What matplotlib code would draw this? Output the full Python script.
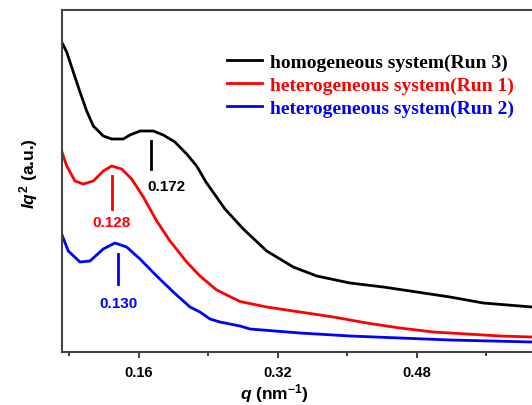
import matplotlib
matplotlib.use("Agg")
import matplotlib.pyplot as plt
from matplotlib.ticker import MultipleLocator

plt.rcParams["mathtext.fontset"] = "custom"
plt.rcParams["mathtext.rm"] = "Liberation Sans:bold"
plt.rcParams["mathtext.it"] = "Liberation Sans:bold:italic"
plt.rcParams["mathtext.bf"] = "Liberation Sans:bold"

# values (q in nm^-1, Iq^2 in arbitrary units)
q_run3 = [0.0710, 0.0768, 0.0844, 0.0921, 0.0998, 0.1074, 0.1189, 0.1286, 0.1419,
          0.1496, 0.1612, 0.1765, 0.1880, 0.2014, 0.2149, 0.2264, 0.2371, 0.2590,
          0.2801, 0.3070, 0.3376, 0.3646, 0.4029, 0.4412, 0.4797, 0.5180, 0.5563,
          0.6124]
i_run3 = [310, 300, 280, 260, 241, 226, 216, 213, 213,
          217, 221, 221, 217, 210, 198, 186, 170, 143,
          123, 101, 85, 76, 69, 65, 60, 55, 49,
          45]

q_run1 = [0.0710, 0.0768, 0.0863, 0.0959, 0.1074, 0.1189, 0.1286, 0.1401, 0.1516,
          0.1650, 0.1804, 0.1957, 0.2149, 0.2302, 0.2494, 0.2763, 0.3070, 0.3453,
          0.3837, 0.4221, 0.4604, 0.4988, 0.5372, 0.5756, 0.6124]
i_run1 = [201, 186, 171, 168, 171, 181, 186, 183, 173,
          155, 131, 111, 90, 76, 62, 50.5, 45, 40,
          35, 29, 24, 20, 18, 16, 15]

q_run2 = [0.0710, 0.0786, 0.0921, 0.1036, 0.1189, 0.1324, 0.1458, 0.1612, 0.1804,
          0.1995, 0.2187, 0.2302, 0.2417, 0.2532, 0.2763, 0.2878, 0.3453, 0.4029,
          0.4604, 0.5180, 0.6124]
i_run2 = [118, 101, 90, 91, 103, 109, 105, 93, 76,
          60, 45, 40, 33, 30, 26, 23, 19, 16,
          14, 12, 10]

labels = ["homogeneous system(Run 3)", "heterogeneous system(Run 1)",
          "heterogeneous system(Run 2)"]
colors = ["black", "#ff0000", "#0000ff"]

# peak markers: position, tick y range, label text and label position
peak_q = [0.1738, 0.1293, 0.1362]
peak_y = [(211, 183), (176, 143), (98, 68)]
peak_txt = ["0.172", "0.128", "0.130"]
peak_lbl = [(0.1911, 166), (0.1286, 130), (0.1362, 49)]

fig = plt.figure(figsize=(5.32, 4.06), dpi=100)
ax = fig.add_axes([62 / 532, 1 - 353 / 406, 1 - 62 / 532, (353 - 11) / 406])

for q, i, lab, c in zip([q_run3, q_run1, q_run2], [i_run3, i_run1, i_run2], labels, colors):
    ax.plot(q, i, color=c, lw=2, label=lab, solid_joinstyle="round")

for pq, (y0, y1), t, (lx, ly), c in zip(peak_q, peak_y, peak_txt, peak_lbl, colors):
    ax.plot([pq, pq], [y0, y1], color=c, lw=2)
    ax.text(lx, ly, t, color=c, fontsize=11, fontweight="bold",
            family="Liberation Sans", ha="center", va="center")

ax.set_xlim(0.0714, 0.6124)
ax.set_ylim(0, 342)
ax.xaxis.set_major_locator(MultipleLocator(0.16))
ax.xaxis.set_minor_locator(MultipleLocator(0.08))
ax.xaxis.set_major_formatter(plt.FuncFormatter(lambda v, p: f"{v:.2f}"))
ax.set_yticks([])
ax.tick_params(axis="x", which="major", direction="out", length=4.3, width=1.3,
               labelsize=10.5, pad=5, colors="#333333")
ax.tick_params(axis="x", which="minor", direction="out", length=3, width=1.3, colors="#333333")
for lbl in ax.get_xticklabels():
    lbl.set_fontweight("bold")
    lbl.set_family("Liberation Sans")
    lbl.set_color("black")
for s in ["left", "bottom", "top"]:
    ax.spines[s].set_linewidth(1.5)
    ax.spines[s].set_color("#444444")
ax.spines["right"].set_visible(False)

ax.set_xlabel(r"$\mathit{q}$ (nm$^{\mathrm{-1}}$)", fontsize=12.5,
              fontweight="bold", family="Liberation Sans", va="center")
ax.xaxis.set_label_coords((274 - 62) / 470, -(394 - 353) / 342)
ax.set_ylabel(r"$\mathit{Iq}^{\mathrm{2}}$ (a.u.)", fontsize=12.5,
              fontweight="bold", family="Liberation Sans")
ax.yaxis.set_label_coords(-(62 - 40) / 470, (353 - 174) / 342)

leg = ax.legend(loc="upper left", bbox_to_anchor=(227 / 532, 1 - 54 / 406),
                bbox_transform=fig.transFigure, frameon=False, borderpad=0,
                borderaxespad=0, handlelength=1.8, handletextpad=0.4,
                labelspacing=0.28, prop={"family": "Liberation Serif",
                                         "weight": "bold", "size": 14})
for t, c in zip(leg.get_texts(), colors):
    t.set_color(c)

fig.savefig("out.png", dpi=100, facecolor="white")
